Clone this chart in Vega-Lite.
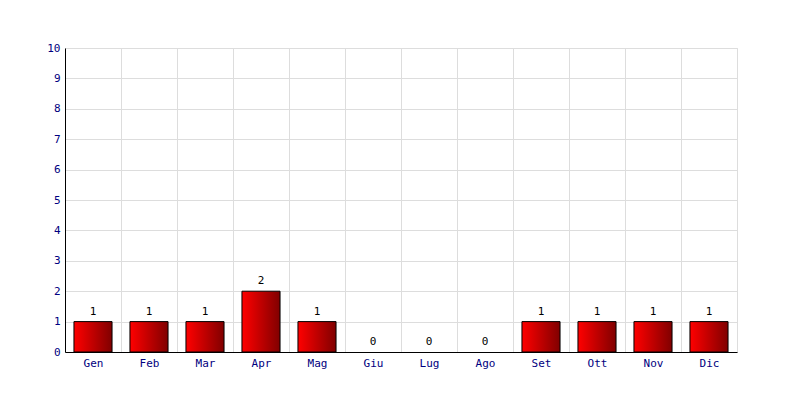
{
  "$schema": "https://vega.github.io/schema/vega-lite/v6.json",
  "width": 672,
  "height": 304,
  "autosize": {"type": "none"},
  "padding": {"left": 65, "top": 48, "right": 63, "bottom": 48},
  "background": "white",
  "config": {
    "view": {"stroke": "#dddddd"},
    "font": "DejaVu Sans Mono"
  },
  "data": {
    "values": [
      {"mese": "Gen", "n": 1},
      {"mese": "Feb", "n": 1},
      {"mese": "Mar", "n": 1},
      {"mese": "Apr", "n": 2},
      {"mese": "Mag", "n": 1},
      {"mese": "Giu", "n": 0},
      {"mese": "Lug", "n": 0},
      {"mese": "Ago", "n": 0},
      {"mese": "Set", "n": 1},
      {"mese": "Ott", "n": 1},
      {"mese": "Nov", "n": 1},
      {"mese": "Dic", "n": 1}
    ]
  },
  "encoding": {
    "x": {
      "field": "mese",
      "type": "nominal",
      "sort": ["Gen", "Feb", "Mar", "Apr", "Mag", "Giu", "Lug", "Ago", "Set", "Ott", "Nov", "Dic"],
      "scale": {"paddingInner": 0, "paddingOuter": 0},
      "axis": {
        "title": null,
        "labelAngle": 0,
        "ticks": false,
        "tickBand": "extent",
        "grid": true,
        "gridColor": "#dddddd",
        "domainColor": "black",
        "labelColor": "#000080",
        "labelFont": "DejaVu Sans Mono",
        "labelFontSize": 11,
        "labelPadding": 5
      }
    },
    "y": {
      "field": "n",
      "type": "quantitative",
      "scale": {"domain": [0, 10], "nice": false},
      "axis": {
        "title": null,
        "values": [0, 1, 2, 3, 4, 5, 6, 7, 8, 9, 10],
        "ticks": false,
        "grid": true,
        "gridColor": "#dddddd",
        "domainColor": "black",
        "labelColor": "#000080",
        "labelFont": "DejaVu Sans Mono",
        "labelFontSize": 11,
        "labelPadding": 5
      }
    }
  },
  "layer": [
    {
      "transform": [{"filter": "datum.n > 0"}],
      "mark": {
        "type": "bar",
        "width": {"band": 0.68},
        "stroke": "black",
        "strokeWidth": 1,
        "color": {
          "gradient": "linear",
          "x1": 0, "x2": 1, "y1": 0, "y2": 0,
          "stops": [
            {"offset": 0, "color": "#ff0000"},
            {"offset": 1, "color": "#800000"}
          ]
        }
      }
    },
    {
      "mark": {
        "type": "text",
        "dy": -10,
        "baseline": "middle",
        "font": "DejaVu Sans Mono",
        "fontSize": 11,
        "color": "black"
      },
      "encoding": {"text": {"field": "n", "type": "quantitative"}}
    }
  ]
}
